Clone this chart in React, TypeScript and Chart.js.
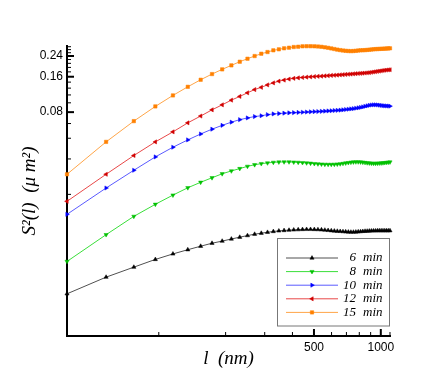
import React, { useEffect, useRef } from 'react';
import { Chart, registerables } from 'chart.js';
import { drawPoint } from 'chart.js/helpers';

Chart.register(...registerables);

// l (nm)
const lengthsNm = [
  38.6, 57.9, 77.2, 96.5, 115.8, 135.1, 154.4, 173.7, 193, 212.3,
  231.6, 250.9, 270.2, 289.5, 308.8, 328.1, 347.4, 366.7, 386, 405.3,
  424.6, 443.9, 463.2, 482.5, 501.8, 521.1, 540.4, 559.7, 579, 598.3,
  617.6, 636.9, 656.2, 675.5, 694.8, 714.1, 733.4, 752.7, 772, 791.3,
  810.6, 829.9, 849.2, 868.5, 887.8, 907.1, 926.4, 945.7, 965, 984.3,
  1003.6, 1022.9, 1042.2, 1061.5, 1080.8, 1100.1,
];

// S^2(l) (um^2)
const s6min = [
  0.002284, 0.003165, 0.003849, 0.004476, 0.004986, 0.005414, 0.005799, 0.00615, 0.006409, 0.006679,
  0.00692, 0.00714, 0.007338, 0.007483, 0.007616, 0.007737, 0.007829, 0.00789, 0.007938, 0.007984,
  0.008017, 0.008048, 0.008063, 0.008063, 0.008048, 0.008031, 0.008, 0.007952, 0.007906, 0.007859,
  0.007814, 0.007783, 0.007753, 0.007723, 0.007693, 0.007663, 0.007647, 0.007647, 0.007663, 0.007693,
  0.007723, 0.007753, 0.007783, 0.007798, 0.007814, 0.007829, 0.007844, 0.007844, 0.007859, 0.007859,
  0.007859, 0.007859, 0.007859, 0.007859, 0.007859, 0.007859,
];
const s8min = [
  0.004303, 0.007268, 0.0104, 0.01317, 0.01577, 0.0182, 0.02027, 0.02214, 0.02394, 0.0253,
  0.02651, 0.02769, 0.02857, 0.02919, 0.02959, 0.02994, 0.03012, 0.03018, 0.03018, 0.03006,
  0.02994, 0.02977, 0.02959, 0.02942, 0.02919, 0.02902, 0.0289, 0.02879, 0.02874, 0.02874,
  0.02879, 0.0289, 0.02907, 0.0293, 0.02953, 0.02977, 0.03, 0.03012, 0.03018, 0.03018,
  0.03012, 0.03, 0.02983, 0.02965, 0.02953, 0.02942, 0.02936, 0.02936, 0.02942, 0.02948,
  0.02953, 0.02965, 0.02977, 0.02989, 0.03, 0.03012,
];
const s10min = [
  0.01082, 0.01812, 0.02565, 0.0333, 0.04025, 0.04646, 0.05218, 0.05733, 0.06177, 0.06576,
  0.06905, 0.0714, 0.07339, 0.07455, 0.07617, 0.07722, 0.07783, 0.07845, 0.07891, 0.07922,
  0.07953, 0.07984, 0.08016, 0.08047, 0.08079, 0.08095, 0.08126, 0.08158, 0.0819, 0.08223,
  0.08255, 0.08287, 0.0832, 0.08369, 0.08418, 0.08468, 0.08518, 0.08569, 0.08636, 0.08705,
  0.08773, 0.08859, 0.08964, 0.09052, 0.09141, 0.09195, 0.09231, 0.09231, 0.09213, 0.09177,
  0.09123, 0.09088, 0.09052, 0.09034, 0.09017, 0.08999,
];
const s12min = [
  0.01396, 0.02371, 0.03422, 0.04468, 0.05437, 0.06487, 0.07412, 0.08369, 0.09231, 0.1012,
  0.1088, 0.1168, 0.1244, 0.1301, 0.1364, 0.1418, 0.1467, 0.1499, 0.1528, 0.155,
  0.1565, 0.1577, 0.1587, 0.1596, 0.1605, 0.1612, 0.1618, 0.1627, 0.1634, 0.1641,
  0.1647, 0.1653, 0.166, 0.1666, 0.1673, 0.168, 0.1686, 0.1693, 0.1699, 0.1706,
  0.1709, 0.1716, 0.1722, 0.1729, 0.1736, 0.1746, 0.1757, 0.1767, 0.1778, 0.1788,
  0.1798, 0.1809, 0.1816, 0.1824, 0.1831, 0.1834,
];
const s15min = [
  0.0237, 0.0447, 0.0671, 0.0895, 0.111, 0.1314, 0.1508, 0.1686, 0.1848, 0.1999,
  0.2146, 0.2276, 0.2399, 0.251, 0.2595, 0.2683, 0.2736, 0.2791, 0.2824, 0.2863,
  0.2879, 0.2902, 0.2908, 0.2908, 0.2902, 0.2891, 0.2874, 0.2846, 0.2818, 0.2785,
  0.2752, 0.272, 0.2694, 0.2673, 0.2657, 0.2647, 0.2641, 0.2647, 0.2657, 0.2673,
  0.2683, 0.2688, 0.2694, 0.2704, 0.2715, 0.2726, 0.2736, 0.2747, 0.2752, 0.2758,
  0.2763, 0.2769, 0.2774, 0.278, 0.2785, 0.2791,
];

const seriesNumbers = ['6', '8', '10', '12', '15'];
const unitLabel = 'min';

const yLabelTicks = [0.08, 0.16, 0.24];
const yLabelText = ['0.08', '0.16', '0.24'];
const yMinorTicks = [0.016, 0.032, 0.048, 0.064, 0.096, 0.112, 0.128, 0.144, 0.176, 0.192, 0.208, 0.224, 0.256, 0.272, 0.288];
const xLabelTicks = [500, 1000];
const xLabelText = ['500', '1000'];
const xMinorTicks = [100, 200, 300, 400, 600, 700, 800, 900, 1100];

const SERIF = "'Liberation Serif', 'Times New Roman', serif";
const SANS = "'Liberation Sans', Arial, sans-serif";

const styles = [
  { marker: '#000000', line: '#505050', pointStyle: 'triangle', rotation: 0, radius: 2.4 },
  { marker: '#00c000', line: '#3ade3a', pointStyle: 'triangle', rotation: 180, radius: 2.4 },
  { marker: '#0000ff', line: '#5a5aff', pointStyle: 'triangle', rotation: 90, radius: 2.4 },
  { marker: '#d00000', line: '#e84848', pointStyle: 'triangle', rotation: 270, radius: 2.4 },
  { marker: '#ff8000', line: '#ffa548', pointStyle: 'rect', rotation: 0, radius: 2.4 },
];

const seriesValues = [s6min, s8min, s10min, s12min, s15min];

const axisTicksPlugin = {
  id: 'axisTicks',
  afterDraw(chart: any) {
    const { ctx, chartArea: a, scales } = chart;
    const x = scales.x;
    const y = scales.y;
    ctx.save();
    ctx.strokeStyle = '#000';
    const yTick = (v: number, len: number, w: number) => {
      const py = y.getPixelForValue(v);
      ctx.lineWidth = w;
      ctx.beginPath();
      ctx.moveTo(a.left, py);
      ctx.lineTo(a.left + len, py);
      ctx.stroke();
    };
    const xTick = (v: number, len: number, w: number) => {
      const px = x.getPixelForValue(v);
      ctx.lineWidth = w;
      ctx.beginPath();
      ctx.moveTo(px, a.bottom);
      ctx.lineTo(px, a.bottom - len);
      ctx.stroke();
    };
    yMinorTicks.forEach((v) => yTick(v, 4, 1));
    yLabelTicks.forEach((v) => yTick(v, 7, 2));
    xMinorTicks.forEach((v) => xTick(v, 4, 1));
    xLabelTicks.forEach((v) => xTick(v, 7, 2));
    ctx.restore();
  },
};

const legendPlugin = {
  id: 'boxLegend',
  afterDatasetsDraw(chart: any) {
    const { ctx } = chart;
    const left = 277.5, top = 238.5, right = 389.5, bottom = 326;
    ctx.save();
    ctx.fillStyle = '#fff';
    ctx.fillRect(left, top, right - left, bottom - top);
    ctx.strokeStyle = '#777';
    ctx.lineWidth = 1;
    ctx.strokeRect(left, top, right - left, bottom - top);
    const rowTop = 258;
    const rowGap = 13.6;
    chart.data.datasets.forEach((ds: any, i: number) => {
      const yy = rowTop + i * rowGap;
      ctx.strokeStyle = ds.borderColor;
      ctx.lineWidth = 1;
      ctx.beginPath();
      ctx.moveTo(286, yy);
      ctx.lineTo(338, yy);
      ctx.stroke();
      ctx.fillStyle = ds.pointBackgroundColor;
      ctx.strokeStyle = ds.pointBorderColor;
      ctx.lineWidth = 0.5;
      drawPoint(ctx, { pointStyle: ds.pointStyle, rotation: ds.pointRotation, radius: ds.pointRadius, borderWidth: 0.5 }, 312, yy);
      ctx.fillStyle = '#000';
      ctx.font = `italic 13px ${SERIF}`;
      ctx.textBaseline = 'middle';
      ctx.textAlign = 'right';
      ctx.fillText(seriesNumbers[i], 356, yy);
      ctx.textAlign = 'left';
      ctx.fillText(unitLabel, 363, yy);
    });
    ctx.restore();
  },
};

export default function App() {
  const ref = useRef<HTMLCanvasElement | null>(null);
  useEffect(() => {
    if (!ref.current) return;
    const datasets = seriesValues.map((vals, i) => ({
      label: `${seriesNumbers[i]} ${unitLabel}`,
      data: lengthsNm.map((l, j) => ({ x: l, y: vals[j] })),
      borderColor: styles[i].line,
      borderWidth: 1,
      pointStyle: styles[i].pointStyle,
      pointRotation: styles[i].rotation,
      pointRadius: styles[i].radius,
      pointBackgroundColor: styles[i].marker,
      pointBorderColor: styles[i].marker,
      pointBorderWidth: 0.5,
      tension: 0,
      fill: false,
      clip: false as any,
    }));
    const chart = new Chart(ref.current, {
      type: 'line',
      data: { datasets },
      plugins: [axisTicksPlugin, legendPlugin],
      options: {
        animation: false,
        responsive: false,
        devicePixelRatio: 1,
        layout: { padding: { top: 46, right: 46, left: 0, bottom: 0 } },
        plugins: { legend: { display: false }, tooltip: { enabled: false } },
        scales: {
          x: {
            type: 'logarithmic',
            min: 38.6,
            max: 1100.1,
            afterFit: (s: any) => { s.height = 44; },
            afterBuildTicks: (s: any) => { s.ticks = xLabelTicks.map((v) => ({ value: v })); },
            grid: { display: false, drawTicks: false },
            border: { display: true, color: '#000', width: 2 },
            ticks: {
              autoSkip: false,
              maxRotation: 0,
              padding: 4,
              color: '#000',
              font: { family: SANS, size: 12 },
              callback: (v: any) => { const k = xLabelTicks.indexOf(Number(v)); return k >= 0 ? xLabelText[k] : ''; },
            },
            title: {
              display: true,
              text: 'l  (nm)',
              color: '#000',
              font: { family: SERIF, style: 'italic', size: 19 },
              padding: { top: 0, bottom: 10 },
            },
          },
          y: {
            type: 'logarithmic',
            min: 0.001,
            max: 0.292,
            afterFit: (s: any) => { s.width = 67; },
            afterBuildTicks: (s: any) => { s.ticks = yLabelTicks.map((v) => ({ value: v })); },
            grid: { display: false, drawTicks: false },
            border: { display: true, color: '#000', width: 2 },
            ticks: {
              autoSkip: false,
              padding: 4,
              color: '#000',
              font: { family: SANS, size: 12 },
              callback: (v: any) => { const k = yLabelTicks.indexOf(Number(v)); return k >= 0 ? yLabelText[k] : ''; },
            },
            title: {
              display: true,
              text: 'S²(l)  (μ m²)',
              color: '#000',
              font: { family: SERIF, style: 'italic', size: 19 },
              padding: { top: 19, bottom: 0 },
            },
          },
        },
      } as any,
    });
    return () => chart.destroy();
  }, []);
  return (
    <div style={{ position: 'absolute', left: 0, top: 0, width: 436, height: 380, background: '#fff' }}>
      <canvas ref={ref} width={436} height={380} style={{ width: 436, height: 380, display: 'block' }} />
    </div>
  );
}
